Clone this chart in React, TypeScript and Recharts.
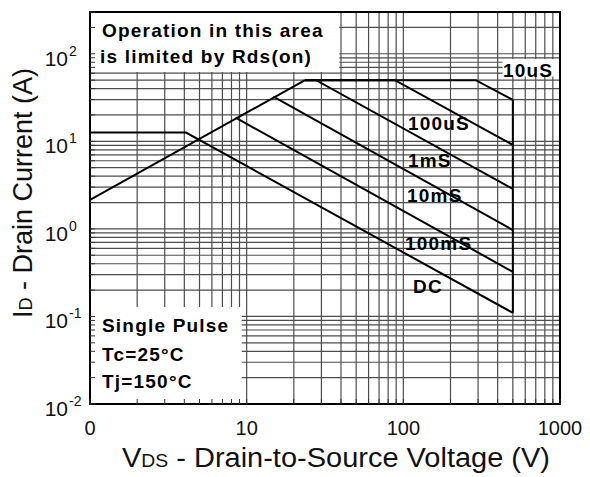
import React from 'react';
import { LineChart, Line, XAxis, YAxis, CartesianGrid, ReferenceArea } from 'recharts';

const FONT = '"Liberation Sans", Arial, Helvetica, sans-serif';
const W = 574;
const H = 469;

// log grid: every 1..9 step in each decade
const xDecades = [1, 10, 100];
const yDecades = [0.01, 0.1, 1, 10, 100];
const steps = [1, 2, 3, 4, 5, 6, 7, 8, 9];
const xTicks = [...xDecades.flatMap((d) => steps.map((s) => +(d * s).toPrecision(3))), 1000];
const yTicks = [...yDecades.flatMap((d) => steps.map((s) => +(d * s).toPrecision(3))).filter((v) => v <= 300)];

const xLabels: Record<number, string> = { 1: '0', 10: '10', 100: '100', 1000: '1000' };
const yExponents: Record<number, string> = { 0.01: '-2', 0.1: '-1', 1: '0', 10: '1', 100: '2' };

// SOA boundaries, VDS (V) vs ID (A)
const rdsLimit = [{ v: 1, i: 2.14 }, { v: 23.6, i: 50 }];
const us10 = [{ v: 23.6, i: 50 }, { v: 290, i: 50 }, { v: 500, i: 29.7 }];
const us100 = [{ v: 23.6, i: 50 }, { v: 88.4, i: 50 }, { v: 500, i: 9.1 }];
const ms1 = [{ v: 23.6, i: 50 }, { v: 27.7, i: 50 }, { v: 500, i: 2.86 }];
const ms10 = [{ v: 14.8, i: 32.4 }, { v: 500, i: 0.97 }];
const ms100 = [{ v: 8.5, i: 18.6 }, { v: 500, i: 0.323 }];
const dc = [{ v: 1, i: 12.6 }, { v: 4.1, i: 12.6 }, { v: 500, i: 0.11 }];
const vdsMax = [{ v: 500, i: 29.7 }, { v: 500, i: 0.11 }];

const series = [rdsLimit, us10, us100, ms1, ms10, ms100, dc, vdsMax];

// white backgrounds behind the notes (data coords)
const boxes = [
  { x1: 1, x2: 39, y1: 62, y2: 300 },
  { x1: 430, x2: 1000, y1: 55, y2: 87 },
  { x1: 1, x2: 9.3, y1: 0.01, y2: 0.128 },
];

const notes = [
  { text: 'Operation in this area', x: 94, y: 29 },
  { text: 'is limited by Rds(on)', x: 92, y: 55 },
  { text: '10uS', x: 495, y: 69 },
  { text: '100uS', x: 400, y: 122 },
  { text: '1mS', x: 400, y: 159 },
  { text: '10mS', x: 399, y: 194 },
  { text: '100mS', x: 397, y: 242 },
  { text: 'DC', x: 405, y: 285 },
  { text: 'Single Pulse', x: 94, y: 324 },
  { text: 'Tc=25°C', x: 94, y: 353 },
  { text: 'Tj=150°C', x: 94, y: 380 },
];

const XTick = (props: any) => {
  const { x, y, payload } = props;
  const label = xLabels[payload.value];
  return (
    <g>
      <line x1={x} x2={x} y1={y} y2={y - 5} stroke="#333" />
      {label && (
        <text x={x} y={y + 31} textAnchor="middle" fontSize={20} fontFamily={FONT} fill="#111">
          {label}
        </text>
      )}
    </g>
  );
};

const YTick = (props: any) => {
  const { x, y, payload } = props;
  const exp = yExponents[payload.value];
  return (
    <g>
      <line x1={x} x2={x + 5} y1={y} y2={y} stroke="#333" />
      {exp && (
        <g fontFamily={FONT} fill="#111">
          <text x={x - 22} y={y + 12} textAnchor="end" fontSize={21}>10</text>
          <text x={x - 21} y={y + 2} fontSize={14}>{exp}</text>
        </g>
      )}
    </g>
  );
};

export default function App() {
  return (
    <div style={{ position: 'relative', width: W, height: H }}>
      <LineChart width={W} height={H} margin={{ top: 4, right: 22, bottom: 0, left: 0 }}>
        <CartesianGrid stroke="#4d4d4d" strokeWidth={1.2} />
        {boxes.map((b, k) => (
          <ReferenceArea key={k} {...b} fill="#fff" fillOpacity={1} stroke="none" />
        ))}
        {series.map((d, k) => (
          <Line
            key={k}
            data={d}
            dataKey="i"
            stroke="#000"
            strokeWidth={2}
            dot={false}
            isAnimationActive={false}
          />
        ))}
        <XAxis
          dataKey="v"
          type="number"
          scale="log"
          domain={[1, 1000]}
          ticks={xTicks}
          interval={0}
          allowDataOverflow
          height={73}
          tickSize={0}
          tickMargin={0}
          axisLine={false}
          tickLine={false}
          tick={<XTick />}
        />
        <YAxis
          dataKey="i"
          type="number"
          scale="log"
          domain={[0.01, 300]}
          ticks={yTicks}
          interval={0}
          allowDataOverflow
          width={82}
          tickSize={0}
          tickMargin={0}
          axisLine={false}
          tickLine={false}
          tick={<YTick />}
        />
        <ReferenceArea x1={1} x2={1000} y1={0.01} y2={300} fill="none" stroke="#000" strokeWidth={2} />
      </LineChart>
      <svg
        width={W}
        height={H}
        style={{ position: 'absolute', left: 0, top: 0, pointerEvents: 'none' }}
        fontFamily={FONT}
      >
        <text x={328} y={459} textAnchor="middle" fontSize={27} textLength={428} lengthAdjust="spacingAndGlyphs" fill="#111">
          V<tspan fontSize={18}>DS</tspan> - Drain-to-Source Voltage (V)
        </text>
        <text transform="translate(24,185) rotate(-90)" textAnchor="middle" fontSize={27} fill="#111">
          I<tspan fontSize={18}>D</tspan> - Drain Current (A)
        </text>
        {notes.map((n) => (
          <text key={n.text} x={n.x} y={n.y} fontSize={19} fontWeight="bold" letterSpacing={1.2} fill="#000">
            {n.text}
          </text>
        ))}
      </svg>
    </div>
  );
}
